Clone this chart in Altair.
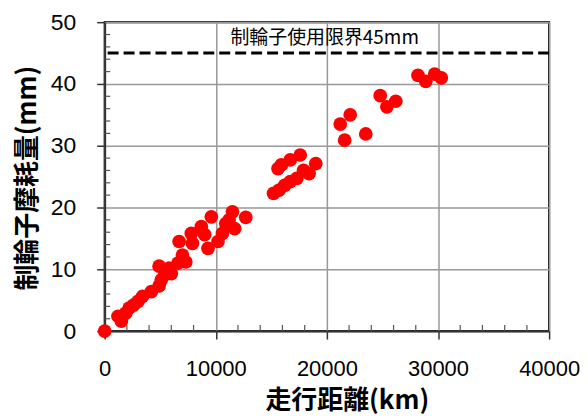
import altair as alt
import pandas as pd

# Distance travelled (km) and brake-shoe wear (mm)
km = [0, 1500, 1200, 1900, 2200, 2600, 3000, 3400, 4200, 4900, 5100, 5400, 4900, 5800,
      6000, 6600, 7000, 7300, 6700, 7800, 7900, 8700, 9000, 9300, 9600, 10200, 10600,
      10900, 11500, 11700, 12700, 11200, 15200, 15700, 16200, 16700, 17300, 17900,
      18400, 19000, 15600, 15900, 16700, 17600, 21600, 21200, 22100, 23500, 24800,
      25400, 26200, 28200, 28900, 29700, 30300]
mm = [0, 1.6, 2.4, 2.9, 3.7, 4.2, 4.8, 5.6, 6.4, 7.3, 8.3, 9.1, 10.5, 10.2,
      9.3, 11.0, 12.3, 11.2, 14.5, 15.8, 14.2, 16.9, 15.6, 13.4, 18.5, 14.5, 15.8,
      17.4, 19.3, 16.6, 18.4, 18.0, 22.3, 22.8, 23.6, 24.2, 24.7, 26.0,
      25.5, 27.1, 26.3, 26.9, 27.7, 28.5, 30.9, 33.5, 35.0, 31.9, 38.1,
      36.3, 37.2, 41.4, 40.4, 41.6, 41.0]

x_major = [0, 10000, 20000, 30000, 40000]
y_major = [0, 10, 20, 30, 40, 50]
x_minor = [2000, 4000, 6000, 8000, 12000, 14000, 16000, 18000, 22000, 24000, 26000,
           28000, 32000, 34000, 36000, 38000]
y_minor = [2, 4, 6, 8, 12, 14, 16, 18, 22, 24, 26, 28, 32, 34, 36, 38, 42, 44, 46, 48]
limit = [45]
limit_label = "制輪子使用限界45mm"
x_title = "走行距離(km)"
y_title = "制輪子摩耗量(mm)"

df = pd.DataFrame({"km": km, "mm": mm})
lim_df = pd.DataFrame({"mm": limit})
xm_df = pd.DataFrame({"km": x_minor})
ym_df = pd.DataFrame({"mm": y_minor})

xs = alt.Scale(domain=[0, 40000], nice=False, zero=False)
ys = alt.Scale(domain=[0, 50], nice=False, zero=False)

cjk = "Noto Sans CJK JP"
num = "Liberation Sans"

points = alt.Chart(df).mark_circle(size=190, color="#ff0000", opacity=1).encode(
    x=alt.X("km:Q", scale=xs, axis=alt.Axis(
        orient="bottom", values=x_major, format="d", tickSize=8, tickWidth=1.5,
        tickColor="#333333", domainColor="#333333", domainWidth=2,
        grid=True, gridColor="#999999", gridWidth=1.5,
        labelFont=num, labelFontSize=22, labelColor="black", labelPadding=20,
        labelOverlap=False, labelBound=False, labelFlush=False,
        title=x_title, titleFont=cjk, titleFontSize=26, titleFontWeight="bold",
        titleColor="black", titleX=243, titleY=70, titleBaseline="middle",
        titleAnchor="middle", titleAlign="center")),
    y=alt.Y("mm:Q", scale=ys, axis=alt.Axis(
        orient="left", values=y_major, tickSize=8, tickWidth=1.5,
        tickColor="#333333", domainColor="#333333", domainWidth=2,
        grid=True, gridColor="#999999", gridWidth=1.5,
        labelFont=num, labelFontSize=23, labelColor="black", labelPadding=21,
        labelOverlap=False, labelBound=False, labelFlush=False,
        title=y_title, titleFont=cjk, titleFontSize=26, titleFontWeight="bold",
        titleColor="black", titleX=-77, titleY=156, titleBaseline="middle",
        titleAnchor="middle", titleAlign="center", titleAngle=270)),
)

# minor ticks, drawn inward from the axes
xminor = alt.Chart(xm_df).mark_rule(color="#555555", strokeWidth=1.2).encode(
    x=alt.X("km:Q", scale=xs),
    y=alt.datum(0), y2=alt.datum(1),
)
yminor = alt.Chart(ym_df).mark_rule(color="#555555", strokeWidth=1.2).encode(
    y=alt.Y("mm:Q", scale=ys),
    x=alt.datum(0), x2=alt.datum(500),
)

rule = alt.Chart(lim_df).mark_rule(color="black", strokeWidth=3, strokeDash=[11, 5]).encode(
    y=alt.Y("mm:Q", scale=ys)
)

label = alt.Chart(lim_df).mark_text(
    text=limit_label, font=cjk, fontSize=19, color="black", align="center", baseline="middle"
).encode(x=alt.datum(19800), y=alt.datum(47.5))

chart = alt.layer(points, xminor, yminor, rule, label).properties(
    width=446, height=310,
    autosize=alt.AutoSizeParams(type="none"),
    padding={"left": 97, "top": 13.5, "right": 31, "bottom": 84.5},
).configure_view(stroke="black", strokeWidth=2)

chart.save("out.html", embed_options={"renderer": "svg", "actions": False})
